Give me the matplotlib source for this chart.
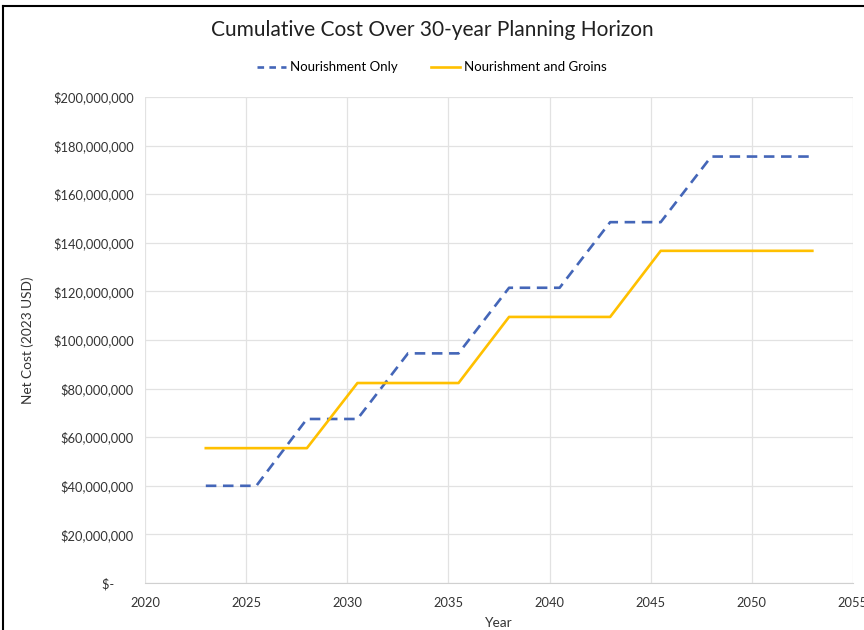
import matplotlib.pyplot as plt
from matplotlib.ticker import FuncFormatter
from matplotlib.lines import Line2D

plt.rcParams['font.family'] = ['Lato', 'DejaVu Sans']

# (years, dollars)
years_nour = [2023, 2025.5, 2028, 2030.5, 2033, 2035.5, 2038, 2040.5, 2043, 2045.5, 2048, 2053]
cost_nour = [40.0e6, 40.0e6, 67.5e6, 67.5e6, 94.5e6, 94.5e6, 121.5e6, 121.5e6,
             148.5e6, 148.5e6, 175.5e6, 175.5e6]
years_groin = [2023, 2028, 2030.5, 2035.5, 2038, 2043, 2045.5, 2053]
cost_groin = [55.5e6, 55.5e6, 82.3e6, 82.3e6, 109.5e6, 109.5e6, 136.7e6, 136.7e6]

blue = '#4466b8'
gold = '#ffc000'

fig = plt.figure(figsize=(8.64, 6.3), dpi=100)
ax = fig.add_axes([0.168, 0.0746, 0.819, 0.7714])

ax.plot(years_nour, cost_nour, color=blue, lw=1.9, ls=(0, (4, 2.5)), label='Nourishment Only')
ax.plot(years_groin, cost_groin, color=gold, lw=1.9, label='Nourishment and Groins')

ax.set_xlim(2020, 2055)
ax.set_ylim(0, 200e6)
ax.set_xticks(range(2020, 2056, 5))
ax.set_yticks(range(0, 200000001, 20000000))

def money(v, pos):
    if v == 0:
        return '$-      '
    return '${:,.0f}'.format(v)

ax.yaxis.set_major_formatter(FuncFormatter(money))
ax.grid(True, color='#e2e2e2', lw=0.9)
ax.set_axisbelow(True)
for s in ['top', 'right', 'left']:
    ax.spines[s].set_visible(False)
ax.spines['bottom'].set_color('#d0d0d0')
ax.tick_params(length=0, labelsize=9.3, colors='#333333', pad=8)
ax.tick_params(axis='x', pad=10)

ax.set_xlabel('Year', fontsize=9.8, color='#333333', labelpad=6)
ax.set_ylabel('Net Cost (2023 USD)', fontsize=9.8, color='#333333', labelpad=14)

fig.text(0.5, 0.952, 'Cumulative Cost Over 30-year Planning Horizon', ha='center', va='center',
         fontsize=15, color='#202020')
handles = [Line2D([], [], color=blue, lw=1.9, ls=(0, (2.5, 2))),
           Line2D([], [], color=gold, lw=1.9)]
fig.legend(handles, ['Nourishment Only', 'Nourishment and Groins'], loc='center',
           bbox_to_anchor=(0.5, 0.893), ncol=2, frameon=False, fontsize=9.5,
           handlelength=2.2, columnspacing=2.5, handletextpad=0.3)

# chart border (left and top edges visible in the crop)
fig.add_artist(Line2D([0.004, 0.004], [0, 0.99], color='black', lw=1.5, transform=fig.transFigure))
fig.add_artist(Line2D([0.004, 1.0], [0.99, 0.99], color='black', lw=1.5, transform=fig.transFigure))

fig.savefig('out.png', dpi=100)
